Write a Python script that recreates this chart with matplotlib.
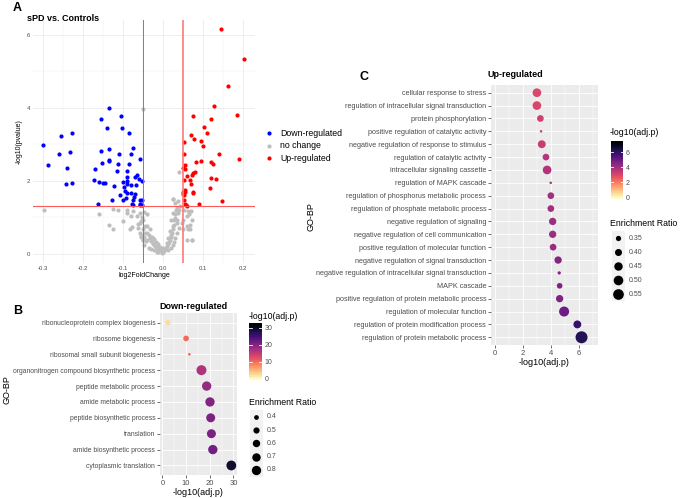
import numpy as np
import matplotlib.pyplot as plt
from matplotlib.patches import Rectangle

plt.rcParams['font.family'] = ['Liberation Sans', 'DejaVu Sans']

# ---- volcano data (log2FoldChange, -log10 pvalue) ----
down_fc = [-0.300, -0.289, -0.255, -0.229, -0.261, -0.234, -0.240, -0.244, -0.228, -0.135,
           -0.157, -0.107, -0.140, -0.103, -0.086, -0.135, -0.155, -0.077, -0.112, -0.081,
           -0.136, -0.135, -0.153, -0.114, -0.086, -0.059, -0.172, -0.117, -0.090, -0.070,
           -0.065, -0.062, -0.054, -0.173, -0.160, -0.150, -0.145, -0.124, -0.102, -0.090,
           -0.092, -0.092, -0.082, -0.098, -0.096, -0.091, -0.082, -0.072, -0.068, -0.108,
           -0.128, -0.102, -0.093, -0.077, -0.074, -0.079, -0.075, -0.059, -0.053, -0.058,
           -0.054, -0.163, -0.059]
down_p = [2.98, 2.42, 3.21, 3.29, 2.72, 2.78, 2.34, 1.91, 1.93, 4.00,
          3.68, 3.77, 3.45, 3.43, 3.30, 2.87, 2.81, 2.89, 2.74, 2.74,
          2.57, 2.54, 2.48, 2.44, 2.44, 2.59, 2.32, 2.26, 2.26, 2.09,
          2.16, 2.03, 1.99, 2.02, 1.95, 1.93, 1.92, 1.85, 1.95, 2.10,
          1.99, 1.91, 1.89, 1.81, 1.72, 1.66, 1.66, 1.64, 1.89, 1.59,
          1.48, 1.46, 1.51, 1.48, 1.54, 1.37, 1.34, 1.48, 1.48, 1.35,
          1.32, 1.36, 1.34]

up_fc = [0.143, 0.201, 0.162, 0.126, 0.185, 0.074, 0.120, 0.101, 0.108, 0.069,
         0.077, 0.095, 0.052, 0.099, 0.139, 0.052, 0.190, 0.081, 0.095, 0.118,
         0.123, 0.054, 0.050, 0.055, 0.080, 0.075, 0.072, 0.058, 0.052, 0.067,
         0.119, 0.131, 0.070, 0.117, 0.053, 0.055, 0.050, 0.073, 0.075, 0.052,
         0.055, 0.060, 0.056, 0.089, 0.146, 0.050, 0.051]
up_p = [6.16, 5.34, 4.60, 4.04, 3.80, 3.77, 3.68, 3.47, 3.29, 3.25,
        3.14, 3.09, 3.06, 2.94, 2.73, 2.73, 2.58, 2.52, 2.53, 2.51,
        2.44, 2.43, 2.33, 2.32, 2.23, 2.21, 2.14, 2.12, 2.01, 2.02,
        2.06, 2.05, 1.91, 1.80, 1.73, 1.68, 1.63, 1.68, 1.65, 1.48,
        1.37, 1.31, 1.32, 1.36, 1.43, 1.68, 1.60]

nc_fc = [-0.298, -0.162, -0.136, -0.127, -0.126, -0.113, -0.101, -0.090, -0.080, -0.078,
         -0.050, -0.064, -0.059, -0.049, -0.042, -0.053, -0.055, -0.052, -0.058, -0.049,
         -0.046, -0.042, -0.040, -0.036, -0.034, -0.031, -0.029, -0.025, -0.024, -0.021,
         -0.019, -0.016, -0.014, -0.011, -0.009, -0.005, -0.003, 0.000, 0.002, 0.005,
         0.007, 0.010, 0.012, 0.015, 0.017, 0.020, 0.022, 0.024, 0.026, 0.027,
         0.029, 0.031, 0.037, 0.041, 0.040, 0.023, 0.037, 0.033, 0.046, 0.050,
         0.058, 0.071, 0.061, 0.066, 0.071, 0.065, 0.069, 0.051, -0.030, -0.024,
         -0.017, -0.013, 0.012, 0.018, 0.023, 0.026, 0.030, 0.034, 0.038, -0.044,
         -0.048, -0.035, -0.050, -0.055,
         0.025, 0.029, 0.035, 0.040, 0.025, 0.020, 0.029, 0.033, 0.025, 0.016,
         0.020, 0.012, 0.008, 0.000, -0.009, -0.017, -0.026, -0.034, -0.042, -0.046,
         -0.051, 0.050, 0.058, 0.066, 0.071, 0.058, 0.062, -0.067, -0.059, -0.063,
         -0.055, -0.051, -0.084, -0.076, -0.092]
nc_p = [1.19, 1.09, 0.77, 0.68, 1.22, 1.19, 0.88, 1.19, 1.04, 0.72,
        3.96, 0.82, 1.11, 1.13, 1.07, 1.00, 0.88, 0.66, 0.57, 0.46,
        0.57, 0.75, 0.38, 0.52, 0.66, 0.34, 0.46, 0.25, 0.40, 0.20,
        0.31, 0.16, 0.25, 0.11, 0.18, 0.06, 0.02, 0.04, 0.06, 0.11,
        0.16, 0.20, 0.25, 0.31, 0.38, 0.46, 0.57, 0.67, 0.79, 0.93,
        1.07, 1.20, 1.11, 1.29, 2.23, 1.50, 1.45, 0.93, 0.84, 0.66,
        0.38, 0.38, 0.66, 0.79, 0.93, 1.07, 1.16, 1.20, 0.13, 0.09,
        0.05, 0.04, 0.09, 0.16, 0.22, 0.31, 0.43, 0.57, 0.70, 0.34,
        0.22, 0.16, 0.38, 0.46,
        1.50, 1.39, 1.25, 1.20, 1.11, 0.93, 0.98, 0.84, 0.75, 0.61,
        0.52, 0.43, 0.29, 0.16, 0.11, 0.20, 0.29, 0.43, 0.57, 0.75,
        0.93, 0.93, 0.75, 0.66, 0.38, 1.02, 1.16, 1.02, 0.84, 0.70,
        0.52, 0.38, 0.66, 1.16, 1.11]

# ---- GO-BP down-regulated ----
down_terms = ["ribonucleoprotein complex biogenesis", "ribosome biogenesis",
              "ribosomal small subunit biogenesis", "organonitrogen compound biosynthetic process",
              "peptide metabolic process", "amide metabolic process",
              "peptide biosynthetic process", "translation",
              "amide biosynthetic process", "cytoplasmic translation"]
down_logp = [2.3, 10.0, 11.4, 16.5, 18.7, 20.1, 20.4, 20.7, 21.3, 29.1]
down_ratio = [0.44, 0.46, 0.30, 0.88, 0.80, 0.80, 0.76, 0.76, 0.80, 0.86]
down_breaks = ["0.4", "0.5", "0.6", "0.7", "0.8"]

# ---- GO-BP up-regulated ----
up_terms = ["cellular response to stress", "regulation of intracellular signal transduction",
            "protein phosphorylation", "positive regulation of catalytic activity",
            "negative regulation of response to stimulus", "regulation of catalytic activity",
            "intracellular signaling cassette", "regulation of MAPK cascade",
            "regulation of phosphorus metabolic process", "regulation of phosphate metabolic process",
            "negative regulation of signaling", "negative regulation of cell communication",
            "positive regulation of molecular function", "negative regulation of signal transduction",
            "negative regulation of intracellular signal transduction", "MAPK cascade",
            "positive regulation of protein metabolic process", "regulation of molecular function",
            "regulation of protein modification process", "regulation of protein metabolic process"]
up_logp = [3.0, 3.0, 3.25, 3.3, 3.35, 3.65, 3.73, 3.99, 4.0, 4.0,
           4.13, 4.13, 4.16, 4.52, 4.6, 4.63, 4.63, 4.95, 5.9, 6.2]
up_ratio = [0.46, 0.46, 0.39, 0.30, 0.43, 0.39, 0.46, 0.30, 0.39, 0.39,
            0.41, 0.41, 0.39, 0.41, 0.31, 0.36, 0.41, 0.52, 0.43, 0.62]
up_breaks = ["0.35", "0.40", "0.45", "0.50", "0.55"]

W, H = 681, 498
cmap = plt.get_cmap('magma_r')
TXT = '#4D4D4D'


def box(l, t, r, b):
    return [l / W, 1 - b / H, (r - l) / W, (b - t) / H]


def dot_area(v, vmin, vmax, dmin, dmax):
    d2 = dmin ** 2 + (dmax ** 2 - dmin ** 2) * (np.asarray(v, dtype=float) - vmin) / (vmax - vmin)
    return d2 * 0.72 ** 2


fig = plt.figure(figsize=(W / 100, H / 100), dpi=100)

# ================= A: volcano =================
axA = fig.add_axes(box(33, 20, 255, 263))
axA.set_xlim(-0.326, 0.229)
axA.set_ylim(-0.26, 6.4)
axA.set_xticks([-0.3, -0.2, -0.1, 0.0, 0.1, 0.2])
axA.set_xticklabels(["-0.3", "-0.2", "-0.1", "0.0", "0.1", "0.2"])
axA.set_yticks([0, 2, 4, 6])
axA.set_xticks([-0.25, -0.15, -0.05, 0.05, 0.15], minor=True)
axA.set_yticks([1, 3, 5], minor=True)
axA.grid(True, which='major', color='#EBEBEB', lw=0.6)
axA.grid(True, which='minor', color='#F2F2F2', lw=0.35)
axA.set_axisbelow(True)
for s in axA.spines.values():
    s.set_visible(False)
axA.tick_params(which='both', length=0, labelsize=4.3, labelcolor=TXT, pad=2)
axA.scatter(nc_fc, nc_p, s=9, color='#BEBEBE', lw=0)
axA.scatter(down_fc, down_p, s=9, color='#0000FF', lw=0)
axA.scatter(up_fc, up_p, s=9, color='#FF0000', lw=0)
axA.axvline(-0.05, color='#FF4A4A', lw=0.7)
axA.axvline(0.05, color='#FF7A7A', lw=1.2)
axA.axhline(-np.log10(0.05), color='#FF5A5A', lw=0.8)
axA.set_xlabel("log2FoldChange", fontsize=5, labelpad=1)
axA.set_ylabel("-log10(pvalue)", fontsize=5, labelpad=3)


def dotplot(ax, terms, logp, ratio, vmax, xlim, xt, xminor, smin, smax, dmin, dmax, fs):
    n = len(terms)
    y = np.arange(n)
    ax.set_facecolor('#EBEBEB')
    ax.set_xlim(*xlim)
    ax.set_ylim(n - 0.4, -0.6)
    ax.set_xticks(xt)
    ax.set_xticks(xminor, minor=True)
    ax.set_yticks(y)
    ax.set_yticklabels(terms)
    ax.grid(True, which='major', color='white', lw=0.6)
    ax.grid(True, which='minor', axis='x', color='white', lw=0.3)
    ax.set_axisbelow(True)
    for s in ax.spines.values():
        s.set_visible(False)
    ax.tick_params(which='major', length=2, width=0.5, color='#333333',
                   labelsize=fs, labelcolor=TXT, pad=1.5)
    ax.tick_params(which='minor', length=0)
    ax.tick_params(axis='x', labelsize=5.5)
    ax.scatter(logp, y, s=dot_area(ratio, smin, smax, dmin, dmax),
               c=logp, cmap=cmap, vmin=0, vmax=vmax, lw=0, zorder=3)
    ax.set_xlabel("-log10(adj.p)", fontsize=6.5, labelpad=1)


def colorbar(l, t, r, b, vmax, ticks):
    cax = fig.add_axes(box(l, t, r, b))
    nb = 20
    half = vmax / (nb - 1) / 2
    vals = np.linspace(0, vmax, nb)
    cax.imshow(vals[:, None], cmap=cmap, vmin=0, vmax=vmax, aspect='auto',
               origin='lower', extent=(0, 1, -half, vmax + half))
    cax.set_xlim(0, 1)
    cax.set_ylim(-half, vmax + half)
    cax.set_xticks([])
    cax.set_yticks(ticks)
    cax.yaxis.tick_right()
    cax.tick_params(axis='y', length=0, labelsize=5, labelcolor=TXT, pad=2)
    for s in cax.spines.values():
        s.set_visible(False)
    for tk in ticks:
        cax.plot([0, 0.2], [tk, tk], color='white', lw=0.6)
        cax.plot([0.8, 1], [tk, tk], color='white', lw=0.6)


def size_legend(x, y0, step, labels, smin, smax, dmin, dmax):
    ov.add_patch(Rectangle((x - 6.5, y0 - step / 2), 13, step * len(labels),
                           color='#F2F2F2', lw=0))
    for i, lab in enumerate(labels):
        ov.scatter([x], [y0 + i * step], s=dot_area(float(lab), smin, smax, dmin, dmax),
                   color='black', lw=0)
        ov.text(x + 11, y0 + i * step, lab, fontsize=5, color=TXT, va='center', ha='left')


# ================= B: down-regulated =================
axB = fig.add_axes(box(160, 313, 237, 475))
dotplot(axB, down_terms, down_logp, down_ratio, 32, (-1.0, 31.5),
        [0, 10, 20, 30], [5, 15, 25], 0.30, 0.88, 2.5, 10, 4.9)
colorbar(249, 323, 262, 380, 32, [0, 10, 20, 30])

# ================= C: up-regulated =================
axC = fig.add_axes(box(491, 85, 598, 345))
dotplot(axC, up_terms, up_logp, up_ratio, 7.3, (-0.29, 7.38),
        [0, 2, 4, 6], [1, 3, 5, 7], 0.30, 0.62, 2.5, 12, 5.2)
colorbar(611, 141, 623, 199, 7.3, [0, 2, 4, 6])

# ================= overlay text / legends =================
ov = fig.add_axes([0, 0, 1, 1])
ov.set_xlim(0, W)
ov.set_ylim(H, 0)
ov.axis('off')

ov.text(13, 8, "A", fontsize=9, fontweight='bold', va='center')
ov.text(13, 311, "B", fontsize=9, fontweight='bold', va='center')
ov.text(359, 77, "C", fontsize=9, fontweight='bold', va='center')
ov.text(27, 18, "sPD vs. Controls", fontsize=6.5, fontweight='bold', va='center')
ov.text(159, 306, "Down-regulated", fontsize=6.5, fontweight='bold', va='center')
ov.text(488, 74, "Up-regulated", fontsize=6.5, fontweight='bold', va='center')
ov.text(7, 390, "GO-BP", fontsize=6.5, rotation=90, va='center', ha='center')
ov.text(311, 217, "GO-BP", fontsize=6.5, rotation=90, va='center', ha='center')

# volcano legend
for i, (lab, col) in enumerate([("Down-regulated", '#0000FF'),
                                ("no change", '#BEBEBE'),
                                ("Up-regulated", '#FF0000')]):
    yy = 133 + i * 12.5
    ov.scatter([269], [yy], s=9, color=col, lw=0)
    ov.text(280, yy, lab, fontsize=6.3, va='center', ha='left')

# B legends
ov.text(249, 316, "-log10(adj.p)", fontsize=6.3, va='center', ha='left')
ov.text(249, 402, "Enrichment Ratio", fontsize=6.3, va='center', ha='left')
size_legend(256, 416.7, 13.3, down_breaks, 0.30, 0.88, 2.5, 10)

# C legends
ov.text(610, 132, "-log10(adj.p)", fontsize=6.3, va='center', ha='left')
ov.text(610, 223, "Enrichment Ratio", fontsize=6.3, va='center', ha='left')
size_legend(618, 238, 14.1, up_breaks, 0.30, 0.62, 2.5, 12)

fig.savefig("out.png", dpi=100)
